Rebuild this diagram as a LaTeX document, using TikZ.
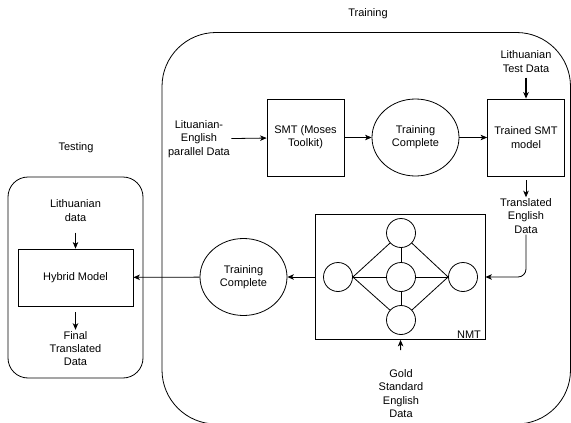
\documentclass[tikz,border=0pt]{standalone}
\usepackage{fontspec}
\setmainfont{Liberation Sans}
\usepackage{tikz}
\usetikzlibrary{shapes.geometric,arrows.meta}

\begin{document}
\begin{tikzpicture}[x=1pt,y=-1pt,>={Stealth[length=6.5pt,width=5.5pt,inset=1.8pt]},line width=0.8pt,font=\fontsize{11}{13.3}\selectfont]
 \tikzstyle{box} = [draw=black,align=center,minimum width=77pt,minimum height=77pt,inner sep=2pt]
 \tikzstyle{done} = [draw=black,ellipse,align=center,minimum width=87pt,minimum height=77pt,inner sep=0pt]
 \tikzstyle{neuron} = [draw=black,circle,minimum size=29pt,inner sep=0pt]
 \tikzstyle{txt} = [align=center,inner sep=1pt]

  \useasboundingbox (0,0) rectangle (571,423);
  \clip (0,0) rectangle (571,423);

  % Frames
  \draw[rounded corners=54pt] (162,32.5) rectangle (570.5,424);
  \draw[rounded corners=20pt] (8,177) rectangle (143,378);
  \node[txt] (training) at (368,14) {Training};
  \node[txt] (testing) at (76,148) {Testing};

  % Training, SMT part
  \node[txt] (par) at (199,139) {Lituanian-\\English\\parallel Data};
  \node[box] (smt) at (305.5,137.5) {SMT (Moses\\Toolkit)};
  \node[done] (tc1) at (415.5,137.5) {Training\\Complete};
  \node[box] (tsmt) at (526,137.5) {Trained SMT\\model};
  \node[txt] (ltd) at (526,61.5) {Lithuanian\\Test Data};
  \node[txt] (ted) at (526,216) {Translated\\English\\Data};

  \draw[->] (par) -- (smt);
  \draw[->] (smt) -- (tc1);
  \draw[->] (tc1) -- (tsmt);
  \draw[->,line width=1.2pt,shorten <=4pt] (ltd) -- (tsmt);
  \draw[->,shorten <=4pt] (tsmt) -- (ted);

  % Training, NMT part
  \node[draw=black,minimum width=170pt,minimum height=125pt] (nmt) at (400,277) {};
  \node[txt,anchor=south east] (nmtlabel) at (nmt.south east) {NMT~};
  \node[neuron] (n1) at (338,277) {};
  \node[neuron] (n2) at (401,233) {};
  \node[neuron] (n3) at (401,277) {};
  \node[neuron] (n4) at (401,320) {};
  \node[neuron] (n5) at (463,277) {};
  \draw (n1.east) -- (n2);
  \draw (n1.east) -- (n3);
  \draw (n1.east) -- (n4);
  \draw (n2) -- (n5.west);
  \draw (n3) -- (n5.west);
  \draw (n4) -- (n5.west);
  \draw (n2) -- (n3) -- (n4);

  \node[txt] (gold) at (401,393.5) {Gold\\Standard\\English\\Data};
  \node[done] (tc2) at (243.5,277) {Training\\Complete};

  \draw[->,rounded corners=8pt] (ted) |- (nmt);
  \draw[->,shorten <=18pt] (gold) -- (nmt);
  \draw[->] (nmt) -- (tc2);

  % Testing
  \node[box,minimum width=115pt,minimum height=57pt] (hybrid) at (75.5,277.5) {Hybrid Model};
  \node[txt] (ld) at (75.5,210.5) {Lithuanian\\data};
  \node[txt] (ftd) at (75.5,348.5) {Final\\Translated\\Data};
  \draw[->] (tc2) -- (hybrid);
  \draw[->,shorten <=10pt] (ld) -- (hybrid);
  \draw[->,shorten <=6pt] (hybrid) -- (ftd);

\end{tikzpicture}
\end{document}
